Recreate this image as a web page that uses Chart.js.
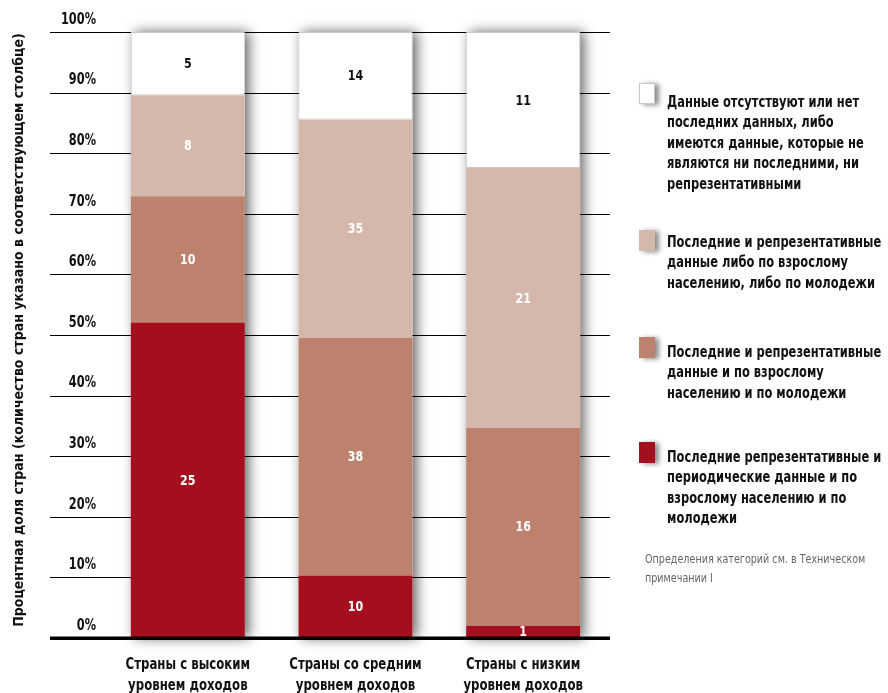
<!DOCTYPE html>
<html><head><meta charset="utf-8">
<script src="https://cdn.jsdelivr.net/npm/chart.js@4.4.1/dist/chart.umd.min.js"></script>
<style>
html,body{margin:0;padding:0;background:#fff;}
#wrap{position:relative;width:888px;height:693px;overflow:hidden;background:#fff;}
#cw{position:absolute;left:0;top:0;width:888px;height:693px;}
.sw{position:absolute;left:639px;width:16px;height:21px;box-shadow:4px 1px 5px rgba(0,0,0,0.45);}
.lt{position:absolute;left:667px;font-family:"Liberation Sans Narrow","DejaVu Sans Condensed","Open Sans",sans-serif;font-weight:bold;font-size:15px;line-height:20.5px;color:#111;white-space:nowrap;transform:scaleX(0.85);transform-origin:left top;}
.note{position:absolute;left:645px;top:550px;font-family:"Liberation Sans Narrow","DejaVu Sans Condensed","Open Sans",sans-serif;font-size:13px;line-height:18.5px;color:#666;white-space:nowrap;transform:scaleX(0.82);transform-origin:left top;}
</style></head>
<body>
<div id="wrap">
  <div id="cw"><canvas id="c"></canvas></div>
  <div id="legend"></div>
  <div class="note">Определения категорий см. в Техническом<br>примечании I</div>
</div>
<script>
// ---- data ----
const categories = [
  ['Страны с высоким', 'уровнем доходов'],
  ['Страны со средним', 'уровнем доходов'],
  ['Страны с низким', 'уровнем доходов']
];
// country counts per category (bottom to top)
const periodicBoth = [25, 10, 1];
const recentBoth   = [10, 38, 16];
const recentEither = [8, 35, 21];
const missingData  = [5, 14, 11];
const yTicks = [0, 10, 20, 30, 40, 50, 60, 70, 80, 90, 100];
const yTickLabels = ['0%', '10%', '20%', '30%', '40%', '50%', '60%', '70%', '80%', '90%', '100%'];
const yTitle = 'Процентная доля стран (количество стран указано в соответствующем столбце)';
const legendLines = [
  ['Данные отсутствуют или нет', 'последних данных, либо', 'имеются данные, которые не', 'являются ни последними, ни', 'репрезентативными'],
  ['Последние и репрезентативные', 'данные либо по взрослому', 'населению, либо по молодежи'],
  ['Последние и репрезентативные', 'данные и по взрослому', 'населению и по молодежи'],
  ['Последние репрезентативные и', 'периодические данные и по', 'взрослому населению и по', 'молодежи']
];

const colors = ['#A50F1D', '#BD826E', '#D4B8AB', '#FFFFFF'];
const FONT = '"Liberation Sans Narrow","DejaVu Sans Condensed","Open Sans",sans-serif';

const counts = [periodicBoth, recentBoth, recentEither, missingData];
const totals = categories.map((_, i) => counts.reduce((s, a) => s + a[i], 0));
const shares = counts.map(a => a.map((v, i) => v / totals[i] * 100));

// ---- legend (HTML) ----
const legendPos = [
  {sw: 83, txt: 91.5, c: 3},
  {sw: 230, txt: 231.5, c: 2},
  {sw: 337, txt: 341.5, c: 1},
  {sw: 442, txt: 446.5, c: 0}
];
const lg = document.getElementById('legend');
legendPos.forEach((p, k) => {
  const s = document.createElement('div');
  s.className = 'sw';
  s.style.top = p.sw + 'px';
  s.style.background = colors[p.c];
  if (p.c === 3) { s.style.border = '1px solid #c8c8c8'; s.style.width = '14px'; s.style.height = '19px'; }
  lg.appendChild(s);
  const t = document.createElement('div');
  t.className = 'lt';
  t.style.top = p.txt + 'px';
  t.innerHTML = legendLines[k].join('<br>');
  lg.appendChild(t);
});

function txt(ctx, s, x, y, sx, align) {
  ctx.save();
  ctx.translate(x, y);
  ctx.scale(sx, 1);
  ctx.textAlign = align;
  ctx.fillText(s, 0, 0);
  ctx.restore();
}

// ---- plugins ----
const decor = {
  id: 'decor',
  beforeDatasetsDraw(chart) {
    const ctx = chart.ctx, y = chart.scales.y;
    ctx.save();
    // bar shadows
    const m0 = chart.getDatasetMeta(0), mTop = chart.getDatasetMeta(chart.data.datasets.length - 1);
    ctx.save();
    ctx.shadowColor = 'rgba(0,0,0,0.6)';
    ctx.shadowBlur = 12;
    ctx.shadowOffsetX = 4;
    ctx.shadowOffsetY = 0;
    ctx.fillStyle = '#fff';
    m0.data.forEach((el, i) => {
      const top = mTop.data[i].y;
      ctx.fillRect(el.x - el.width / 2, top, el.width, el.base - top);
    });
    ctx.restore();
    // grid lines
    ctx.strokeStyle = '#000';
    ctx.lineWidth = 1;
    yTicks.forEach(v => {
      if (v === 0) return;
      const py = Math.round(y.getPixelForValue(v)) + 0.5;
      ctx.beginPath(); ctx.moveTo(50, py); ctx.lineTo(610, py); ctx.stroke();
    });
    ctx.restore();
  },
  afterDatasetsDraw(chart) {
    const ctx = chart.ctx, y = chart.scales.y, x = chart.scales.x;
    ctx.save();
    ctx.textBaseline = 'middle';
    // value labels
    ctx.font = 'bold 14px ' + FONT;
    chart.data.datasets.forEach((ds, d) => {
      const meta = chart.getDatasetMeta(d);
      meta.data.forEach((el, i) => {
        ctx.fillStyle = d === 3 ? '#111' : '#fff';
        txt(ctx, String(counts[d][i]), el.x, (el.y + el.base) / 2 + 1, 0.88, 'center');
      });
    });
    // baseline
    const py0 = y.getPixelForValue(0);
    ctx.fillStyle = '#000';
    ctx.fillRect(50, py0 - 1.5, 560, 3.5);
    // y tick labels
    ctx.font = 'bold 15px ' + FONT;
    ctx.fillStyle = '#111';
    yTicks.forEach((v, k) => {
      txt(ctx, yTickLabels[k], 96, y.getPixelForValue(v) - 12, 0.84, 'right');
    });
    // category labels
    categories.forEach((lines, i) => {
      const cx = x.getPixelForValue(i);
      lines.forEach((ln, j) => txt(ctx, ln, cx, py0 + 27 + j * 21, 0.87, 'center'));
    });
    // y title
    ctx.translate(19, 330);
    ctx.rotate(-Math.PI / 2);
    ctx.font = 'bold 14px ' + FONT;
    txt(ctx, yTitle, 0, 0, 1, 'center');
    ctx.restore();
  }
};

new Chart(document.getElementById('c'), {
  type: 'bar',
  data: {
    labels: categories,
    datasets: shares.map((arr, d) => ({
      data: arr,
      backgroundColor: colors[d],
      borderColor: d === 3 ? '#c8c8c8' : colors[d],
      borderWidth: d === 3 ? 1 : 0,
      borderSkipped: false,
      barPercentage: 0.68,
      categoryPercentage: 1
    }))
  },
  options: {
    responsive: true,
    maintainAspectRatio: false,
    animation: false,
    events: [],
    layout: {padding: {left: 104, right: 281, top: 32, bottom: 55}},
    plugins: {legend: {display: false}, tooltip: {enabled: false}},
    scales: {
      x: {stacked: true, display: false},
      y: {stacked: true, display: false, min: 0, max: 100, ticks: {stepSize: 10}}
    }
  },
  plugins: [decor]
});
</script>
</body></html>
